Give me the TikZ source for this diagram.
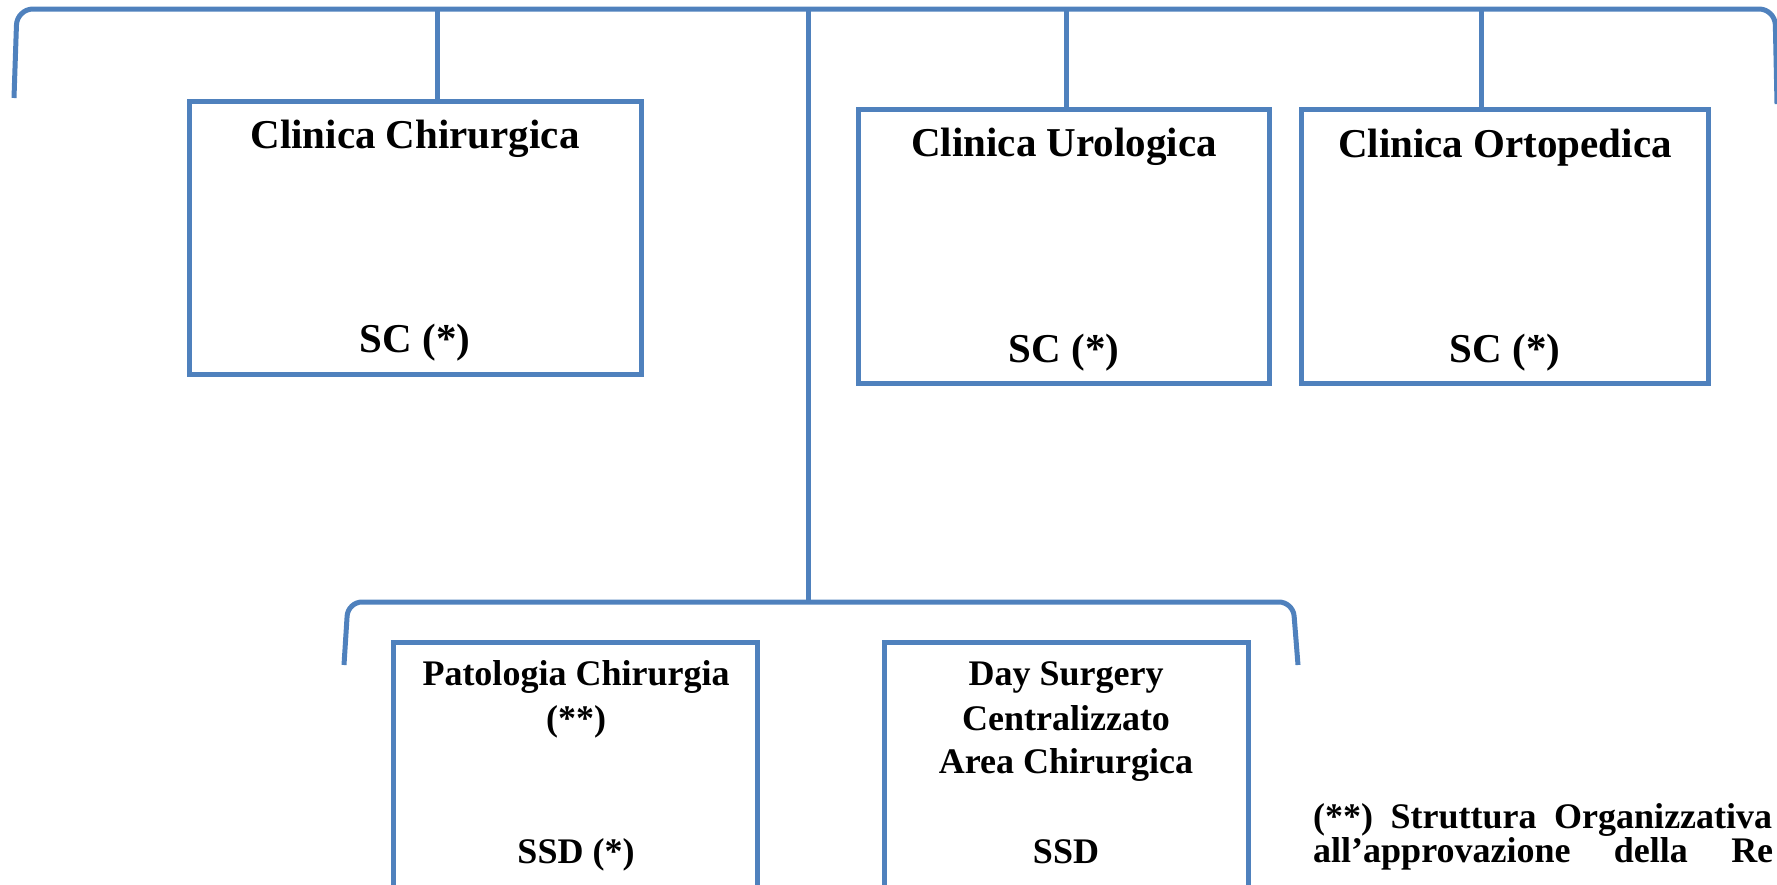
\documentclass[tikz,border=0pt]{standalone}
\usepackage{fontspec}
\setmainfont{Liberation Serif}
\definecolor{orgblue}{HTML}{4F81BD}
\tikzset{
  unit/.style={draw=orgblue, line width=5pt, inner sep=0pt},
  wire/.style={draw=orgblue, line width=5pt},
  bigtext/.style={font=\fontsize{41}{46}\selectfont\bfseries, anchor=base, inner sep=0pt},
  smalltext/.style={font=\fontsize{36}{44}\selectfont\bfseries, anchor=base, inner sep=0pt},
  notetext/.style={font=\fontsize{36}{35}\selectfont\bfseries, anchor=base west, inner sep=0pt},
}
\begin{document}
\begin{tikzpicture}[x=1pt, y=-1pt]
      \useasboundingbox (0,0) rectangle (1777,884);
      \clip (0,0) rectangle (1777,884);
      % WIRES
      \coordinate (lend) at (14,98);
      \coordinate (rend) at (1777,104);
      \coordinate (spine) at (808,9);
      \coordinate (fork) at (808,602);
      \coordinate (d1) at (437,9);
      \coordinate (d2) at (1066,9);
      \coordinate (d3) at (1481,9);
      \coordinate (blend) at (344,665);
      \coordinate (brend) at (1298,665);
      \draw[wire, rounded corners=16pt] (lend) -- (17,9) -- (1775,9) -- (rend);
      \draw[wire] (spine) -- (fork);
      \draw[wire, rounded corners=14pt] (blend) -- (348,602) -- (1293,602) -- (brend);
      % TOP PART
      \node[unit, minimum width=452pt, minimum height=273pt] (chir) at (415,237.5) {};
      \node[unit, minimum width=411pt, minimum height=274pt] (urol) at (1063.5,246) {};
      \node[unit, minimum width=407pt, minimum height=274pt] (orto) at (1504.5,246) {};
      \draw[wire] (d1) -- (d1 |- chir.north);
      \draw[wire] (d2) -- (d2 |- urol.north);
      \draw[wire] (d3) -- (d3 |- orto.north);
      \node[bigtext] (chirname) at (415,148) {Clinica Chirurgica};
      \node[bigtext] (chirtype) at (415,352) {SC (*)};
      \node[bigtext] (urolname) at (1064,156) {Clinica Urologica};
      \node[bigtext] (uroltype) at (1064,362) {SC (*)};
      \node[bigtext] (ortoname) at (1505,157) {Clinica Ortopedica};
      \node[bigtext] (ortotype) at (1505,362) {SC (*)};
      % BOTTOM PART
      \node[unit, minimum width=364pt, minimum height=278pt] (pato) at (575,781) {};
      \node[unit, minimum width=364pt, minimum height=278pt] (days) at (1066,781) {};
      \node[smalltext] (patoname) at (576,685) {Patologia Chirurgia};
      \node[smalltext] (patomark) at (576,730) {(**)};
      \node[smalltext] (patotype) at (576,863) {SSD (*)};
      \node[smalltext] (daysname) at (1066,685) {Day Surgery};
      \node[smalltext] (dayscent) at (1066,730) {Centralizzato};
      \node[smalltext] (daysarea) at (1066,773) {Area Chirurgica};
      \node[smalltext] (daystype) at (1066,863) {SSD};
      % NOTE
      \node[notetext] (noteone) at (1313,828) {\makebox[459pt][s]{(**) Struttura Organizzativa}};
      \node[notetext] (notetwo) at (1313,862) {\makebox[460pt][s]{all’approvazione della Re}};
\end{tikzpicture}
\end{document}
